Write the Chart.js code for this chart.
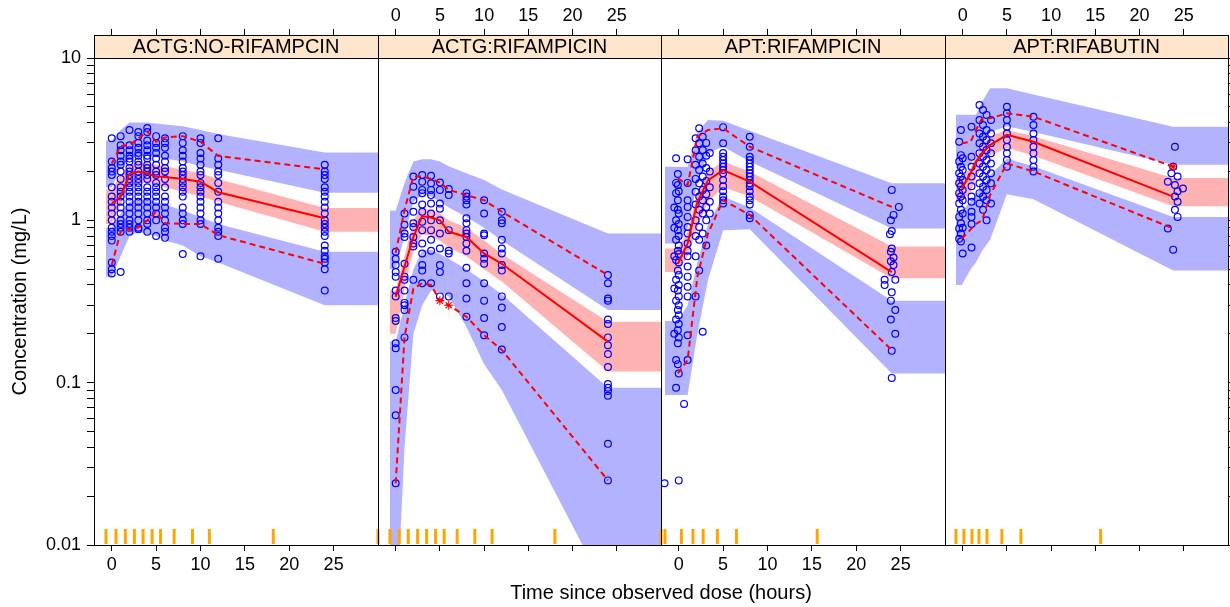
<!DOCTYPE html>
<html>
<head>
<meta charset="utf-8">
<title>VPC by study and rifamycin</title>
<script src="https://cdn.jsdelivr.net/npm/chart.js@4.4.0/dist/chart.umd.min.js"></script>
<style>
  html, body { margin: 0; padding: 0; background: #fff; }
  #wrap { position: relative; width: 1230px; height: 607px; overflow: hidden; background: #fff; }
  #wrap canvas { position: absolute; left: 0; top: 0; }
  #xtitle { position: absolute; left: 411px; width: 500px; top: 580px; text-align: center;
    font: 20px 'Liberation Sans', Arial, sans-serif; color: #000; line-height: 24px; }
</style>
</head>
<body>
<div id="wrap">
  <canvas id="p0" width="1240" height="607"></canvas>
  <canvas id="p1" width="1240" height="607"></canvas>
  <canvas id="p2" width="1240" height="607"></canvas>
  <canvas id="p3" width="1240" height="607"></canvas>
  <div id="xtitle">Time since observed dose (hours)</div>
</div>
<script>
Chart.defaults.font.family = "'Liberation Sans', Arial, sans-serif";
Chart.defaults.color = '#000';

const stripLabels = ['ACTG:NO-RIFAMPCIN', 'ACTG:RIFAMPICIN', 'APT:RIFAMPICIN', 'APT:RIFABUTIN'];
const timeTicks = [0, 5, 10, 15, 20, 25];
const concTicks = [0.01, 0.02, 0.03, 0.04, 0.05, 0.06, 0.07, 0.08, 0.09,
  0.1, 0.2, 0.3, 0.4, 0.5, 0.6, 0.7, 0.8, 0.9, 1, 2, 3, 4, 5, 6, 7, 8, 9, 10];
const concLabels = [0.01, 0.1, 1, 10];

// ---- ACTG : no rifampicin ----
const binEdges1 = [-0.65, 0.48, 1.53, 2.55, 3.53, 4.55, 5.5, 7.03, 9.1, 11.0, 18.2, 30];
const binMid1 = [0, 1, 2, 3, 4, 5, 6, 8, 10, 12, 24];
const obsP5_1 = [0.53, 0.85, 0.88, 0.905, 1.0, 1.13, 0.96, 0.95, 0.95, 0.81, 0.54];
const obsP50_1 = [1.27, 1.40, 1.93, 2.0, 1.95, 1.86, 1.85, 1.80, 1.73, 1.49, 1.03];
const obsP95_1 = [2.24, 2.87, 2.9, 3.2, 3.52, 3.05, 3.24, 3.30, 3.05, 2.49, 2.06];
const ciP5lo1 = [0.45, 0.6, 0.8, 0.85, 0.82, 0.8, 0.75, 0.7, 0.6, 0.55, 0.30];
const ciP5hi1 = [0.9, 1.1, 1.3, 1.35, 1.35, 1.3, 1.25, 1.15, 1.05, 0.95, 0.64];
const ciP50lo1 = [0.95, 1.25, 1.6, 1.7, 1.7, 1.65, 1.6, 1.5, 1.4, 1.3, 0.85];
const ciP50hi1 = [1.55, 1.9, 2.2, 2.3, 2.25, 2.2, 2.15, 2.05, 1.95, 1.8, 1.19];
const ciP95lo1 = [1.6, 2.1, 2.4, 2.5, 2.5, 2.45, 2.4, 2.3, 2.15, 2.05, 1.48];
const ciP95hi1 = [3.1, 3.6, 4.0, 4.0, 4.0, 3.95, 3.9, 3.8, 3.6, 3.4, 2.62];
const obsPts1 = [
  [0, [3.2, 2.3, 2.1, 2.0, 1.9, 1.6, 1.4, 1.3, 1.2, 1.1, 1.0, 0.9, 0.85, 0.8, 0.75, 0.55, 0.5, 0.47]],
  [1, [3.3, 2.9, 2.7, 2.5, 2.3, 2.2, 2.0, 1.8, 1.6, 1.5, 1.4, 1.3, 1.2, 1.1, 1.0, 0.95, 0.9, 0.85, 0.48]],
  [2, [3.6, 2.9, 2.7, 2.5, 2.4, 2.3, 2.1, 2.0, 1.9, 1.8, 1.7, 1.6, 1.5, 1.4, 1.3, 1.2, 1.1, 1.0, 0.95, 0.9, 0.85]],
  [3, [3.5, 3.3, 3.0, 2.8, 2.6, 2.5, 2.3, 2.2, 2.0, 1.9, 1.8, 1.7, 1.6, 1.5, 1.4, 1.3, 1.2, 1.1, 1.0, 0.9, 0.88]],
  [4, [3.7, 3.5, 3.1, 2.9, 2.7, 2.5, 2.4, 2.2, 2.1, 2.0, 1.9, 1.8, 1.6, 1.5, 1.4, 1.3, 1.2, 1.1, 1.0, 0.95, 0.85]],
  [5, [3.3, 3.0, 2.8, 2.6, 2.4, 2.2, 2.0, 1.9, 1.7, 1.6, 1.5, 1.4, 1.3, 1.2, 1.1, 1.0, 0.8]],
  [6, [3.2, 3.0, 2.8, 2.5, 2.3, 2.1, 2.0, 1.8, 1.6, 1.4, 1.3, 1.2, 1.1, 1.0, 0.9, 0.85, 0.78]],
  [8, [3.3, 3.0, 2.7, 2.5, 2.3, 2.1, 2.0, 1.9, 1.8, 1.7, 1.6, 1.5, 1.4, 1.2, 1.1, 1.0, 0.95, 0.62]],
  [10, [3.2, 3.0, 2.6, 2.4, 2.2, 2.0, 1.9, 1.7, 1.6, 1.5, 1.4, 1.3, 1.2, 1.1, 1.0, 0.95, 0.6]],
  [12, [3.2, 2.4, 2.2, 2.0, 1.9, 1.7, 1.5, 1.3, 1.2, 1.1, 1.0, 0.9, 0.85, 0.8, 0.58]],
  [24, [2.2, 2.0, 1.9, 1.8, 1.6, 1.5, 1.4, 1.3, 1.2, 1.1, 1.0, 0.95, 0.9, 0.85, 0.8, 0.7, 0.65, 0.6, 0.58, 0.55, 0.5, 0.37]]
];

// ---- ACTG : rifampicin ----
const binEdges2 = [-0.65, 0.4, 1.42, 2.48, 3.5, 4.51, 5.48, 6.95, 8.95, 10.9, 18.0, 30];
const binMid2 = [0, 1, 2, 3, 4, 5, 6, 8, 10, 12, 24];
const obsP5_2 = [0.024, 0.19, 0.38, 0.41, 0.40, 0.32, 0.30, 0.255, 0.196, 0.159, 0.025];
const obsP50_2 = [0.338, 0.52, 0.79, 1.06, 1.04, 1.0, 0.85, 0.79, 0.625, 0.54, 0.179];
const obsP95_2 = [0.63, 1.16, 1.86, 1.86, 1.80, 1.71, 1.54, 1.43, 1.33, 1.13, 0.46];
const ciP5lo2 = [0.0028, 0.04, 0.2, 0.3, 0.37, 0.36, 0.34, 0.22, 0.13, 0.09, 0.005];
const ciP5hi2 = [0.18, 0.3, 0.5, 0.65, 0.66, 0.62, 0.58, 0.5, 0.42, 0.35, 0.093];
const ciP50lo2 = [0.2, 0.38, 0.65, 0.82, 0.8, 0.75, 0.68, 0.6, 0.5, 0.42, 0.117];
const ciP50hi2 = [0.37, 0.6, 1.0, 1.2, 1.15, 1.1, 1.0, 0.9, 0.75, 0.62, 0.237];
const ciP95lo2 = [0.5, 0.8, 1.3, 1.45, 1.4, 1.3, 1.2, 1.05, 0.9, 0.75, 0.28];
const ciP95hi2 = [1.15, 1.7, 2.3, 2.38, 2.38, 2.3, 2.15, 1.95, 1.77, 1.55, 0.83];
const obsPts2 = [
  [0, [0.64, 0.58, 0.53, 0.48, 0.45, 0.37, 0.34, 0.25, 0.24, 0.175, 0.163, 0.09, 0.063, 0.024]],
  [1, [1.10, 0.94, 0.83, 0.79, 0.54, 0.45, 0.43, 0.37, 0.31, 0.30, 0.28, 0.19]],
  [2, [1.86, 1.61, 1.33, 1.13, 0.96, 0.91, 0.79, 0.72, 0.69, 0.43]],
  [3, [1.90, 1.73, 1.54, 1.47, 1.25, 1.13, 0.98, 0.87, 0.72, 0.625, 0.53, 0.49, 0.41]],
  [4, [1.88, 1.69, 1.54, 1.43, 1.27, 1.10, 1.0, 0.87, 0.76, 0.65, 0.41]],
  [5, [1.71, 1.54, 1.27, 1.18, 1.0, 0.83, 0.67, 0.53, 0.48, 0.34]],
  [6, [1.56, 1.43, 0.87, 0.65, 0.625, 0.34]],
  [8, [1.47, 1.40, 1.33, 1.25, 1.03, 0.96, 0.87, 0.83, 0.79, 0.72, 0.65, 0.51, 0.41, 0.33, 0.255]],
  [10, [1.33, 1.1, 0.83, 0.81, 0.625, 0.58, 0.54, 0.41, 0.32, 0.25, 0.196]],
  [12, [1.13, 1.0, 0.96, 0.76, 0.67, 0.625, 0.53, 0.49, 0.34, 0.29, 0.22, 0.16]],
  [24, [0.46, 0.41, 0.33, 0.32, 0.245, 0.23, 0.19, 0.17, 0.15, 0.125, 0.098, 0.093, 0.089, 0.083, 0.042, 0.025]]
];

// ---- APT : rifampicin ----
const binEdges3 = [-1.55, 0.3, 1.6, 2.75, 4.35, 6.5, 15.6];
const binMid3 = [-0.1, 1.0, 2.1, 3.3, 5.0, 8.0, 24.0];
const obsP5_3 = [0.114, 0.138, 0.45, 0.83, 1.33, 1.08, 0.159];
const obsP50_3 = [0.54, 0.72, 1.3, 1.77, 2.04, 1.73, 0.48];
const obsP95_3 = [1.82, 1.65, 3.27, 3.6, 3.69, 2.84, 1.21];
const ciP5lo3 = [0.084, 0.084, 0.2, 0.43, 0.87, 0.88, 0.114];
const ciP5hi3 = [0.24, 0.3, 0.55, 0.95, 1.4, 1.2, 0.32];
const ciP50lo3 = [0.48, 0.6, 0.9, 1.3, 1.6, 1.4, 0.44];
const ciP50hi3 = [0.67, 0.85, 1.5, 2.0, 2.3, 2.0, 0.69];
const ciP95lo3 = [0.72, 0.9, 1.7, 2.6, 2.84, 2.3, 0.89];
const ciP95hi3 = [2.14, 2.14, 3.5, 4.15, 4.1, 3.56, 1.69];
const obsPts3 = [
  [-1.6, [0.024]],
  [-0.5, [1.2, 0.9, 0.6, 0.38, 0.2]],
  [-0.3, [2.41, 1.7, 1.47, 1.0, 0.76, 0.57, 0.43, 0.32, 0.245, 0.138, 0.093]],
  [-0.1, [1.93, 1.65, 1.33, 1.16, 0.87, 0.65, 0.49, 0.37, 0.28, 0.21, 0.175, 0.13]],
  [0.0, [1.51, 1.1, 0.95, 0.8, 0.7, 0.62, 0.55, 0.46, 0.4, 0.34, 0.3, 0.26, 0.23, 0.19, 0.114, 0.025]],
  [0.6, [0.074]],
  [1.0, [2.38, 1.70, 1.33, 1.21, 1.05, 0.91, 0.83, 0.72, 0.65, 0.6, 0.52, 0.45, 0.39, 0.34, 0.196, 0.138]],
  [1.9, [3.2, 2.7, 2.2, 1.8, 1.5, 1.25, 1.0, 0.8, 0.6, 0.34]],
  [2.3, [3.69, 2.98, 2.46, 2.04, 1.69, 1.4, 1.16, 0.91, 0.76, 0.49]],
  [2.7, [3.27, 2.71, 2.24, 1.86, 1.54, 1.33, 1.1, 0.83, 0.206]],
  [3.1, [3.0, 2.5, 2.1, 1.75, 1.45, 1.21, 1.0, 0.7]],
  [3.5, [2.6, 2.0, 1.6, 1.3, 1.1]],
  [5.0, [3.75, 2.98, 2.6, 2.46, 2.35, 2.24, 2.14, 2.04, 1.95, 1.77, 1.62, 1.51, 1.40, 1.33, 1.27]],
  [8.0, [3.27, 2.84, 2.46, 2.35, 2.24, 2.14, 2.04, 1.95, 1.86, 1.77, 1.69, 1.62, 1.51, 1.40, 1.33, 1.25, 1.08, 1.03]],
  [24.0, [1.54, 0.86, 0.67, 0.48, 0.36, 0.157, 0.107]],
  [23.9, [1.0, 0.64, 0.56, 0.32, 0.245]],
  [24.2, [1.08, 0.59, 0.53]],
  [24.4, [0.43, 0.28, 0.2]],
  [23.2, [0.43, 0.40]],
  [24.8, [1.21]],
  [23.8, [0.82]]
];

// ---- APT : rifabutin ----
const binEdges4 = [-0.76, 0.14, 1.05, 1.84, 2.74, 4.43, 6.58, 15.6];
const binMid4 = [-0.1, 0.9, 1.5, 2.2, 3.1, 5.0, 8.0, 23.8];
const obsP5_4 = [0.77, 0.88, 0.95, 1.0, 1.43, 2.24, 2.0, 0.89];
const obsP50_4 = [1.57, 1.95, 2.3, 2.59, 2.91, 3.36, 3.05, 1.40];
const obsP95_4 = [2.98, 3.05, 3.6, 4.25, 4.25, 4.56, 4.35, 2.14];
const ciP5lo4 = [0.40, 0.5, 0.55, 0.65, 0.76, 1.45, 1.35, 0.49];
const ciP5hi4 = [1.15, 1.3, 1.45, 1.6, 1.9, 2.4, 2.15, 1.05];
const ciP50lo4 = [1.3, 1.5, 1.8, 2.2, 2.5, 2.8, 2.5, 1.22];
const ciP50hi4 = [1.85, 2.1, 2.5, 2.9, 3.3, 3.6, 3.3, 1.82];
const ciP95lo4 = [2.1, 2.2, 2.6, 3.0, 3.5, 3.8, 3.5, 2.2];
const ciP95hi4 = [4.47, 4.47, 4.47, 5.4, 6.5, 6.5, 5.96, 3.77];
const obsPts4 = [
  [-0.4, [3.05, 2.3, 1.95, 1.69, 1.47, 1.27, 1.05, 0.89, 0.77]],
  [-0.2, [3.6, 2.52, 2.14, 1.86, 1.62, 1.40, 1.16, 0.96, 0.83, 0.74]],
  [0.0, [2.41, 2.04, 1.77, 1.54, 1.33, 1.1, 0.9, 0.625]],
  [1.0, [3.77, 2.46, 2.14, 1.86, 1.62, 1.40, 1.3, 1.13, 1.05, 0.95, 0.68]],
  [1.9, [5.13, 4.15, 3.43, 2.98, 2.59, 2.24, 1.95, 1.69, 1.47, 1.27]],
  [2.3, [4.78, 3.87, 3.27, 2.84, 2.47, 2.14, 1.86, 1.61, 1.40, 1.16]],
  [2.7, [4.46, 3.6, 3.12, 2.71, 2.35, 2.04, 1.77, 1.54, 1.33, 1.0]],
  [3.2, [4.15, 3.43, 2.98, 2.59, 2.24, 1.95, 1.69, 1.27]],
  [5.0, [5.0, 4.56, 4.15, 3.77, 3.43, 3.12, 2.84, 2.59, 2.35, 2.14]],
  [8.0, [4.35, 3.87, 3.43, 3.12, 2.84, 2.59, 2.35, 2.14, 2.0]],
  [24.0, [2.84, 1.65, 1.40, 1.16]],
  [23.8, [2.14, 0.66]],
  [23.6, [1.95]],
  [24.3, [1.86, 1.51, 1.3, 1.05]],
  [23.2, [1.73, 0.89]],
  [24.9, [1.57]]
];

const panels = [
  { edges: binEdges1, mid: binMid1, p5: obsP5_1, p50: obsP50_1, p95: obsP95_1,
    ci5: [ciP5lo1, ciP5hi1], ci50: [ciP50lo1, ciP50hi1], ci95: [ciP95lo1, ciP95hi1], pts: obsPts1 },
  { edges: binEdges2, mid: binMid2, p5: obsP5_2, p50: obsP50_2, p95: obsP95_2,
    ci5: [ciP5lo2, ciP5hi2], ci50: [ciP50lo2, ciP50hi2], ci95: [ciP95lo2, ciP95hi2], pts: obsPts2 },
  { edges: binEdges3, mid: binMid3, p5: obsP5_3, p50: obsP50_3, p95: obsP95_3,
    ci5: [ciP5lo3, ciP5hi3], ci50: [ciP50lo3, ciP50hi3], ci95: [ciP95lo3, ciP95hi3], pts: obsPts3 },
  { edges: binEdges4, mid: binMid4, p5: obsP5_4, p50: obsP50_4, p95: obsP95_4,
    ci5: [ciP5lo4, ciP5hi4], ci50: [ciP50lo4, ciP50hi4], ci95: [ciP95lo4, ciP95hi4], pts: obsPts4 }
];

// pixel layout of the lattice
const panelLeft = [94, 378, 661, 945];
const panelRight = [378, 661, 945, 1228];
const canvasW = 1240;
const xMin = -2, xMax = 30;

const blueBand = 'rgba(0, 0, 255, 0.3)';
const redBand = 'rgba(255, 0, 0, 0.3)';

// ribbon edge: starts at first bin edge, runs through bin mids, held flat to the right
function ribbonEdge(p, vals) {
  const xs = [p.edges[0]].concat(p.mid, [xMax]);
  const ys = [vals[0]].concat(vals, [vals[vals.length - 1]]);
  return xs.map((x, k) => ({ x: x, y: ys[k] }));
}

function ribbon(p, ci, color) {
  return [
    { data: ribbonEdge(p, ci[0]), borderColor: 'transparent', borderWidth: 0, pointRadius: 0, fill: false, order: 5 },
    { data: ribbonEdge(p, ci[1]), borderColor: 'transparent', borderWidth: 0, pointRadius: 0, fill: '-1', backgroundColor: color, order: 5 }
  ];
}

function pctLine(p, vals, dashed) {
  return { data: p.mid.map((t, k) => ({ x: t, y: vals[k] })), borderColor: '#ff0000', borderWidth: 2,
    borderDash: dashed ? [6, 4] : [], pointRadius: 0, fill: false, order: 1 };
}

// observed percentiles falling outside their simulated interval get an asterisk
function outsiders(p) {
  const out = [];
  [[p.p5, p.ci5], [p.p50, p.ci50], [p.p95, p.ci95]].forEach(function (pair) {
    pair[0].forEach(function (v, k) {
      if (v < pair[1][0][k] || v > pair[1][1][k]) out.push({ x: p.mid[k], y: v });
    });
  });
  return out;
}

const latticePlugin = {
  id: 'lattice',
  beforeDraw(chart) {
    const ctx = chart.ctx, a = chart.chartArea, s = chart.scales.strip;
    ctx.save();
    ctx.fillStyle = '#ffe5cc';
    ctx.fillRect(a.left, s.top, a.right - a.left, s.bottom - s.top);
    ctx.strokeStyle = '#000';
    ctx.lineWidth = 1;
    ctx.strokeRect(a.left + 0.5, s.top + 0.5, a.right - a.left, s.bottom - s.top);
    ctx.restore();
  },
  afterDatasetsDraw(chart, args, opts) {
    const ctx = chart.ctx, a = chart.chartArea, x = chart.scales.x;
    ctx.save();
    ctx.strokeStyle = '#ffa500';
    ctx.lineWidth = 3;
    opts.edges.forEach(function (e) {
      const px = x.getPixelForValue(e);
      if (px < a.left - 2 || px > a.right + 2) return;
      ctx.beginPath();
      ctx.moveTo(px, a.bottom - 1);
      ctx.lineTo(px, a.bottom - 16);
      ctx.stroke();
    });
    ctx.restore();
  },
  afterDraw(chart) {
    const ctx = chart.ctx, a = chart.chartArea;
    ctx.save();
    ctx.strokeStyle = '#000';
    ctx.lineWidth = 1;
    ctx.strokeRect(a.left + 0.5, a.top + 0.5, a.right - a.left, a.bottom - a.top);
    ctx.restore();
  }
};

function makePanel(i) {
  const p = panels[i];
  const labelsBottom = (i % 2 === 0);
  const hasLeft = (i === 0), hasRight = (i === 3);
  const leftW = hasLeft ? 94 : 0, rightW = hasRight ? 8 : 0;

  const pts = [];
  p.pts.forEach(function (col) { col[1].forEach(function (c) { pts.push({ x: col[0], y: c }); }); });

  const datasets = [].concat(
    ribbon(p, p.ci95, blueBand),
    ribbon(p, p.ci50, redBand),
    ribbon(p, p.ci5, blueBand),
    [{ data: pts, showLine: false, pointStyle: 'circle', pointRadius: 3.4, pointBorderWidth: 1.2,
       pointBorderColor: '#0000ff', pointBackgroundColor: 'rgba(0,0,0,0)', order: 3 }],
    [pctLine(p, p.p50, false), pctLine(p, p.p5, true), pctLine(p, p.p95, true)],
    [{ data: outsiders(p), showLine: false, pointStyle: 'star', pointRadius: 4.5, pointBorderWidth: 1.1,
       pointBorderColor: '#ff0000', pointBackgroundColor: 'rgba(0,0,0,0)', order: 0 }]
  );

  const xTicks = function (s) { s.ticks = timeTicks.map(function (v) { return { value: v }; }); };
  const yTicks = function (s) { s.ticks = concTicks.map(function (v) { return { value: v, major: concLabels.indexOf(v) >= 0 }; }); };

  new Chart(document.getElementById('p' + i), {
    type: 'line',
    data: { datasets: datasets },
    plugins: [latticePlugin],
    options: {
      responsive: false,
      animation: false,
      events: [],
      layout: { padding: { left: panelLeft[i] - leftW, right: canvasW - panelRight[i] - rightW, top: 0, bottom: 0 } },
      plugins: { legend: { display: false }, tooltip: { enabled: false }, lattice: { edges: p.edges } },
      scales: {
        x: {
          type: 'linear', position: 'bottom', min: xMin, max: xMax,
          afterBuildTicks: xTicks,
          afterFit: function (s) { s.height = 62; },
          ticks: { display: labelsBottom, autoSkip: false, maxRotation: 0, padding: 3, font: { size: 18 }, color: '#000' },
          grid: { display: true, drawOnChartArea: false, drawTicks: true, tickLength: 6, color: '#000' },
          border: { display: false }
        },
        xTop: {
          type: 'linear', position: 'top', axis: 'x', min: xMin, max: xMax, weight: 1,
          afterBuildTicks: xTicks,
          afterFit: function (s) { s.height = 35; },
          ticks: { display: !labelsBottom, autoSkip: false, maxRotation: 0, padding: 2, font: { size: 18 }, color: '#000' },
          grid: { display: true, drawOnChartArea: false, drawTicks: true, tickLength: 6, color: '#000' },
          border: { display: false }
        },
        strip: {
          type: 'linear', position: 'top', axis: 'x', min: xMin, max: xMax, weight: 0,
          afterFit: function (s) { s.height = 23; },
          ticks: { display: false },
          grid: { display: false },
          border: { display: false },
          title: { display: true, text: stripLabels[i], font: { size: 20 }, padding: 0, color: '#000' }
        },
        y: {
          type: 'logarithmic', display: hasLeft || hasRight, position: hasRight ? 'right' : 'left',
          min: 0.01, max: 10,
          afterBuildTicks: yTicks,
          afterFit: function (s) { s.width = hasLeft ? leftW : rightW; },
          ticks: {
            display: hasLeft, autoSkip: false, padding: 6, font: { size: 18 }, color: '#000',
            callback: function (v) { return concLabels.indexOf(v) >= 0 ? String(v) : ''; }
          },
          grid: { display: true, drawOnChartArea: false, drawTicks: true, tickLength: 7, color: '#000' },
          border: { display: false },
          title: { display: hasLeft, text: 'Concentration (mg/L)', font: { size: 20 }, padding: { top: 8, bottom: 0 }, color: '#000' }
        }
      }
    }
  });
}

for (let i = 0; i < 4; i++) makePanel(i);
</script>
</body>
</html>
